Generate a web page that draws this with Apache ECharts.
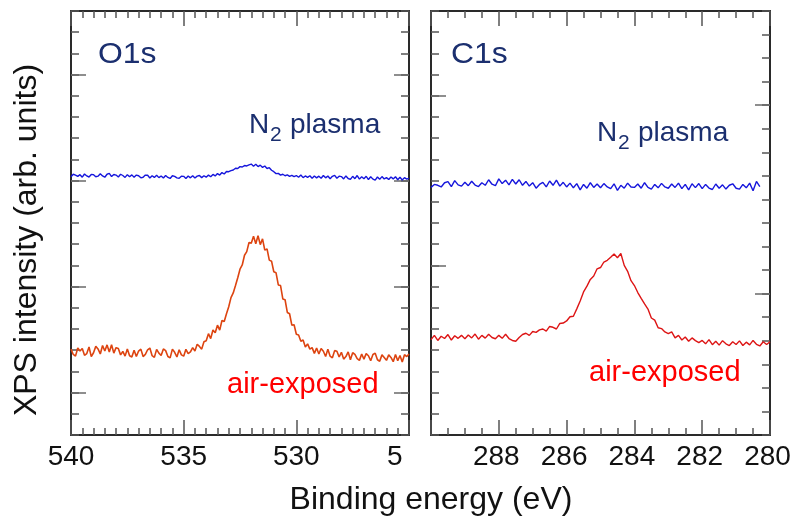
<!DOCTYPE html>
<html>
<head>
<meta charset="utf-8">
<script src="https://cdn.jsdelivr.net/npm/echarts@6/dist/echarts.min.js"></script>
<style>
  html, body { margin: 0; padding: 0; background: #ffffff; }
  #chart { width: 794px; height: 524px; }
</style>
</head>
<body>
<div id="chart"></div>
<script>
// Binding-energy grid of the O1s scans (eV, 0.1 eV step)
const o1sEnergy = [
  540,539.9,539.8,539.7,539.6,539.5,539.4,539.3,539.2,539.1,
  539,538.9,538.8,538.7,538.6,538.5,538.4,538.3,538.2,538.1,
  538,537.9,537.8,537.7,537.6,537.5,537.4,537.3,537.2,537.1,
  537,536.9,536.8,536.7,536.6,536.5,536.4,536.3,536.2,536.1,
  536,535.9,535.8,535.7,535.6,535.5,535.4,535.3,535.2,535.1,
  535,534.9,534.8,534.7,534.6,534.5,534.4,534.3,534.2,534.1,
  534,533.9,533.8,533.7,533.6,533.5,533.4,533.3,533.2,533.1,
  533,532.9,532.8,532.7,532.6,532.5,532.4,532.3,532.2,532.1,
  532,531.9,531.8,531.7,531.6,531.5,531.4,531.3,531.2,531.1,
  531,530.9,530.8,530.7,530.6,530.5,530.4,530.3,530.2,530.1,
  530,529.9,529.8,529.7,529.6,529.5,529.4,529.3,529.2,529.1,
  529,528.9,528.8,528.7,528.6,528.5,528.4,528.3,528.2,528.1,
  528,527.9,527.8,527.7,527.6,527.5,527.4,527.3,527.2,527.1,
  527,526.9,526.8,526.7,526.6,526.5,526.4,526.3,526.2,526.1,
  526,525.9,525.8,525.7,525.6,525.5,525.4,525.3,525.2,525.1,
  525
];

// O1s intensity, N2-plasma treated sample (arb. units, offset)
const o1sN2Plasma = [
  12.18,12.30,12.26,12.20,12.28,12.16,12.31,12.22,12.17,12.29,
  12.28,12.18,12.21,12.32,12.22,12.16,12.30,12.34,12.19,12.29,
  12.26,12.17,12.30,12.24,12.15,12.28,12.18,12.27,12.16,12.26,
  12.23,12.13,12.16,12.26,12.25,12.12,12.23,12.15,12.25,12.14,
  12.22,12.12,12.24,12.15,12.10,12.23,12.20,12.13,12.11,12.21,
  12.20,12.10,12.22,12.13,12.23,12.12,12.21,12.24,12.14,12.23,
  12.16,12.26,12.18,12.29,12.22,12.33,12.26,12.38,12.31,12.43,
  12.42,12.47,12.50,12.58,12.57,12.66,12.64,12.71,12.69,12.74,
  12.78,12.68,12.77,12.66,12.73,12.62,12.69,12.57,12.61,12.49,
  12.42,12.33,12.34,12.26,12.30,12.23,12.27,12.20,12.25,12.19,
  12.24,12.16,12.26,12.14,12.22,12.15,12.23,12.11,12.22,12.13,
  12.21,12.11,12.24,12.13,12.22,12.09,12.20,12.25,12.11,12.21,
  12.19,12.08,12.22,12.10,12.06,12.20,12.09,12.24,12.07,12.18,
  12.09,12.20,12.05,12.18,12.07,12.02,12.17,12.06,12.19,12.08,
  12.14,12.05,12.17,12.08,12.18,12.04,12.16,12.03,12.14,12.07,
  12.11
];

// O1s intensity, air-exposed sample (arb. units)
const o1sAirExposed = [
  4.05,3.80,3.72,4.10,3.96,4.08,3.76,3.84,4.15,3.70,
  3.88,4.18,4.06,3.82,4.22,3.96,4.25,3.92,4.26,3.86,
  4.12,4.08,3.78,3.94,3.72,4.06,3.74,3.68,4.00,3.70,
  3.96,4.05,3.70,3.80,4.02,4.10,3.74,3.66,4.04,3.86,
  3.75,4.06,3.98,3.70,3.64,4.05,3.90,3.68,4.02,3.78,
  3.72,4.04,3.84,3.92,4.12,3.96,4.28,4.18,4.05,4.40,
  4.45,4.78,4.55,4.95,4.82,5.18,4.95,5.40,5.35,5.72,
  6.05,6.48,6.70,7.05,7.42,7.82,8.02,8.48,8.65,9.08,
  9.05,9.38,9.02,9.40,8.98,9.25,8.72,8.78,8.25,8.20,
  7.70,7.65,7.08,7.05,6.42,6.38,5.78,5.72,5.18,5.20,
  4.75,4.72,4.42,4.48,4.15,4.30,4.05,4.12,3.85,4.10,
  3.82,4.08,3.95,3.70,4.05,3.72,3.64,3.98,3.95,3.68,
  3.90,3.58,3.70,3.92,3.55,3.88,3.80,3.60,3.52,3.82,
  3.58,3.84,3.74,3.50,3.80,3.86,3.55,3.48,3.78,3.66,
  3.52,3.78,3.66,3.46,3.80,3.50,3.75,3.44,3.79,3.70,
  3.82
];

// Binding-energy grid of the C1s scans (eV, 0.1 eV step)
const c1sEnergy = [
  290,289.9,289.8,289.7,289.6,289.5,289.4,289.3,289.2,289.1,
  289,288.9,288.8,288.7,288.6,288.5,288.4,288.3,288.2,288.1,
  288,287.9,287.8,287.7,287.6,287.5,287.4,287.3,287.2,287.1,
  287,286.9,286.8,286.7,286.6,286.5,286.4,286.3,286.2,286.1,
  286,285.9,285.8,285.7,285.6,285.5,285.4,285.3,285.2,285.1,
  285,284.9,284.8,284.7,284.6,284.5,284.4,284.3,284.2,284.1,
  284,283.9,283.8,283.7,283.6,283.5,283.4,283.3,283.2,283.1,
  283,282.9,282.8,282.7,282.6,282.5,282.4,282.3,282.2,282.1,
  282,281.9,281.8,281.7,281.6,281.5,281.4,281.3,281.2,281.1,
  281,280.9,280.8,280.7,280.6,280.5,280.4,280.3,280.2,280.1,
  280
];

// C1s intensity, N2-plasma treated sample (scan ends at 280.3 eV)
const c1sN2Plasma = [
  11.68,11.82,11.78,11.70,11.90,11.95,11.72,12.00,11.80,11.74,
  11.92,11.76,11.97,11.79,11.72,11.90,11.78,12.04,11.83,11.76,
  12.08,11.86,12.02,11.80,12.06,11.84,12.04,11.78,11.96,11.74,
  11.90,11.64,11.82,11.92,11.70,11.98,11.78,12.02,11.74,11.92,
  11.70,11.88,11.66,11.86,11.56,11.82,11.64,11.90,11.68,11.84,
  11.66,11.86,11.70,11.62,11.85,11.54,11.78,11.64,11.88,11.70,
  11.68,11.84,11.64,11.90,11.68,11.60,11.82,11.66,11.87,11.70,
  11.64,11.84,11.68,11.88,11.62,11.82,11.56,11.85,11.67,11.86,
  11.62,11.82,11.65,11.58,11.84,11.64,11.80,11.60,11.78,11.85,
  11.64,11.60,11.82,11.66,11.88,11.52,11.96,11.72
];

// C1s intensity, air-exposed sample
const c1sAirExposed = [
  4.50,4.70,4.46,4.66,4.55,4.74,4.48,4.68,4.56,4.70,
  4.54,4.72,4.58,4.76,4.52,4.70,4.57,4.75,4.60,4.54,
  4.70,4.56,4.75,4.55,4.46,4.42,4.60,4.74,4.80,4.70,
  4.88,4.84,4.96,5.00,4.90,5.12,5.08,5.00,5.26,5.28,
  5.38,5.58,5.60,5.95,6.32,6.75,7.02,7.34,7.50,7.84,
  7.90,8.16,8.24,8.38,8.54,8.36,8.56,8.00,7.72,7.28,
  7.05,6.72,6.44,6.18,5.94,5.52,5.42,5.06,5.02,4.86,
  4.78,4.86,4.58,4.70,4.48,4.62,4.42,4.58,4.45,4.36,
  4.46,4.30,4.50,4.26,4.42,4.24,4.45,4.30,4.22,4.40,
  4.27,4.44,4.22,4.38,4.25,4.46,4.28,4.20,4.40,4.27,
  4.40
];

// Axis ranges and labelled ticks
const o1sRange = [525, 540];
const c1sRange = [280, 290];
const o1sTickLabels = [540, 535, 530, 525];
const c1sTickLabels = [288, 286, 284, 282, 280];

const FONT = '"Liberation Sans", Arial, Helvetica, sans-serif';
const NAVY = '#1b2f6f';
const TICK = '#555555';
const FRAME = '#2a2a2a';

function pairs(xs, ys) {
  return ys.map((y, i) => [xs[i], y]);
}

// Bottom / top energy axes for one panel
function energyAxes(grid, range, major, minorSplit, labelFmt, labelPad) {
  const base = {
    type: 'value', gridIndex: grid, inverse: true,
    min: range[0], max: range[1], interval: major,
    splitLine: { show: false },
    axisLine: { show: true, onZero: false, lineStyle: { color: FRAME, width: 2 } },
    axisTick: { show: true, inside: true, length: 15, lineStyle: { color: TICK, width: 1.5 } },
    minorTick: { show: true, splitNumber: minorSplit, length: 7, lineStyle: { color: TICK, width: 1.5 } },
    minorSplitLine: { show: false }
  };
  return [
    Object.assign({}, base, {
      position: 'bottom',
      axisLabel: {
        show: true, margin: 8, color: '#111', fontSize: 28, fontFamily: FONT,
        showMinLabel: true, showMaxLabel: true,
        padding: labelPad,
        formatter: labelFmt,
        rich: { cut: { width: 44, align: 'left', fontSize: 28, fontFamily: FONT, color: '#111' } }
      }
    }),
    Object.assign({}, base, { position: 'top', axisLabel: { show: false } })
  ];
}

// Intensity axes: a framed axis with short ticks plus one carrying the long ticks
function intensityAxes(grid, side, max, longTicks) {
  return [
    {
      type: 'value', gridIndex: grid, position: side, min: 0, max: max, interval: 1,
      splitLine: { show: false },
      axisLine: { show: true, onZero: false, lineStyle: { color: FRAME, width: 2 } },
      axisTick: { show: true, inside: true, length: 8, lineStyle: { color: TICK, width: 1.5 } },
      axisLabel: { show: false }
    },
    {
      type: 'value', gridIndex: grid, position: side, min: 0, max: max,
      splitLine: { show: false },
      axisLine: { show: false, onZero: false },
      axisTick: { show: true, inside: true, length: 15, customValues: longTicks, lineStyle: { color: '#6a6a6a', width: 1.5 } },
      axisLabel: { show: false, customValues: longTicks }
    }
  ];
}

const xAxes = []
  .concat(energyAxes(0, o1sRange, 5, 10, v => {
    if (o1sTickLabels.indexOf(v) < 0) return '';
    return v === 525 ? '{cut|5}' : String(v);
  }, 0))
  .concat(energyAxes(1, c1sRange, 2, 4, v => c1sTickLabels.indexOf(v) < 0 ? '' : String(v), [0, 5, 0, 0]));

const yAxes = []
  .concat(intensityAxes(0, 'left', 20, [2, 7, 12, 17]))
  .concat(intensityAxes(0, 'right', 20, [2, 7, 12, 17]))
  .concat(intensityAxes(1, 'left', 20, [8, 16]))
  .concat(intensityAxes(1, 'right', 18, [6, 14]));

function text(x, y, str, size, color, extra) {
  return Object.assign({
    type: 'text', x: x, y: y, silent: true,
    style: {
      text: str, fontSize: size, fontFamily: FONT, fill: color,
      align: 'left', verticalAlign: 'middle'
    }
  }, extra || {});
}

const chart = echarts.init(document.getElementById('chart'), null, { renderer: 'canvas' });
chart.setOption({
  animation: false,
  backgroundColor: '#ffffff',
  grid: [
    { left: 71, top: 11, width: 338, height: 424 },
    { left: 431, top: 11, width: 339, height: 424 }
  ],
  xAxis: xAxes,
  yAxis: yAxes,
  series: [
    {
      name: 'O1s N2 plasma', type: 'line', xAxisIndex: 0, yAxisIndex: 0,
      data: pairs(o1sEnergy, o1sN2Plasma), showSymbol: false, clip: true,
      lineStyle: { color: '#1616dc', width: 1.4 }, z: 5
    },
    {
      name: 'O1s air-exposed', type: 'line', xAxisIndex: 0, yAxisIndex: 0,
      data: pairs(o1sEnergy, o1sAirExposed), showSymbol: false, clip: true,
      lineStyle: { color: '#dd4410', width: 1.6 }, z: 5
    },
    {
      name: 'C1s N2 plasma', type: 'line', xAxisIndex: 2, yAxisIndex: 4,
      data: pairs(c1sEnergy, c1sN2Plasma), showSymbol: false, clip: true,
      lineStyle: { color: '#1616dc', width: 1.4 }, z: 5
    },
    {
      name: 'C1s air-exposed', type: 'line', xAxisIndex: 2, yAxisIndex: 4,
      data: pairs(c1sEnergy, c1sAirExposed), showSymbol: false, clip: true,
      lineStyle: { color: '#dd1515', width: 1.4 }, z: 5
    }
  ],
  graphic: [
    // panel titles
    text(98, 55, 'O1s', 29, NAVY, { scaleX: 1.1 }),
    text(451, 55, 'C1s', 29, NAVY, { scaleX: 1.1 }),
    // curve labels, O1s panel
    text(249, 125, 'N', 28, NAVY),
    text(270, 135, '2', 21, NAVY),
    text(290, 125, 'plasma', 28, NAVY),
    text(227, 385, 'air-exposed', 29, '#ff0000'),
    // curve labels, C1s panel
    text(597, 133, 'N', 28, NAVY),
    text(618, 143, '2', 21, NAVY),
    text(638, 133, 'plasma', 28, NAVY),
    text(589, 373, 'air-exposed', 29, '#ff0000'),
    // axis titles
    {
      type: 'text', x: 431, y: 500, silent: true,
      style: { text: 'Binding energy (eV)', fontSize: 32, fontFamily: FONT, fill: '#111',
               align: 'center', verticalAlign: 'middle' }
    },
    {
      type: 'text', x: 27, y: 240, rotation: Math.PI / 2, silent: true,
      style: { text: 'XPS intensity (arb. units)', fontSize: 32, fontFamily: FONT, fill: '#111',
               align: 'center', verticalAlign: 'middle' }
    }
  ]
});
</script>
</body>
</html>
